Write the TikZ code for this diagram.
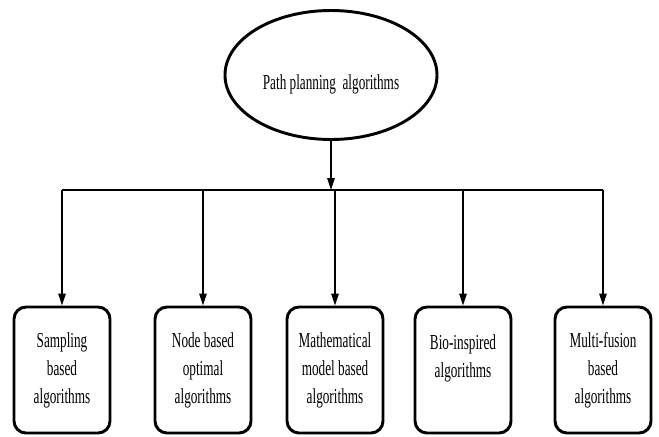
\documentclass[tikz,border=0pt]{standalone}
\usepackage{fontspec}
\setmainfont{Liberation Serif}[FakeStretch=0.62]
\usetikzlibrary{shapes.geometric,arrows.meta}

\tikzset{
    algbox/.style={draw, line width=2.2pt, rounded corners=9pt,
        minimum width=72pt, minimum height=94.5pt, align=center,
        font=\fontsize{16}{21}\selectfont},
    arr/.style={line width=1.3pt, -{Triangle[length=9pt,width=5.5pt]}}
}

\begin{document}
\begin{tikzpicture}[x=0.75pt, y=-0.75pt]
    \useasboundingbox (0,0) rectangle (659,436);

    \node[draw, ellipse, line width=2.2pt, minimum width=159pt, minimum height=96.75pt,
        text height=21pt, text depth=0pt, font=\fontsize{16}{21}\selectfont]
        (root) at (331,75) {Path planning\ \ algorithms};

    \foreach \i/\x/\t in {1/62/{Sampling\\based\\algorithms},
                          2/203/{Node based\\optimal\\algorithms},
                          3/335/{Mathematical\\model based\\algorithms},
                          4/463/{Bio-inspired\\algorithms\\~},
                          5/603/{Multi-fusion\\based\\algorithms}}
        {\node[algbox] (b\i) at (\x,370) {\t};}

    \coordinate (bus) at (331,190);
    \draw[arr] (root.south) -- (root.south |- bus);
    \draw[line width=1.3pt] (b1.north |- bus) -- (b5.north |- bus);
    \foreach \i in {1,...,5}
        {\draw[arr] (b\i.north |- bus) -- (b\i.north);}
\end{tikzpicture}
\end{document}
